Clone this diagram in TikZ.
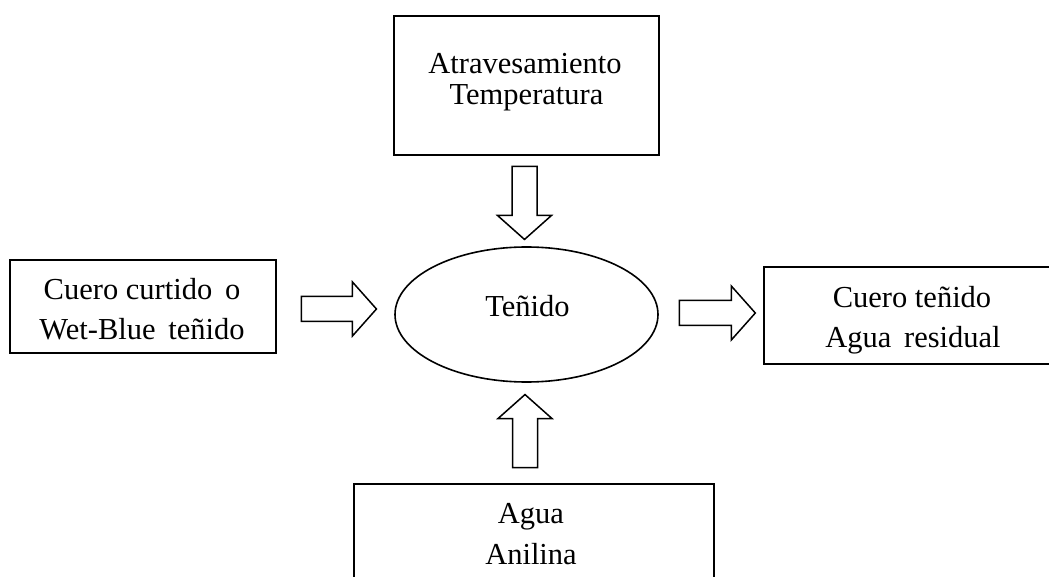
\documentclass[tikz,border=0pt]{standalone}
\usepackage{fontspec}
\setmainfont{Liberation Serif}
\usetikzlibrary{shapes.geometric,calc}
\tikzset{
  boxline/.style={draw, line width=2.9pt, rectangle, inner sep=0pt},
  ovalline/.style={draw, line width=1.6pt, ellipse, inner sep=0pt},
  arrowline/.style={draw, line width=1.5pt, fill=white, line join=miter},
  lbl/.style={anchor=base, inner sep=0pt, font=\fontsize{30.5}{36}\selectfont},
  pics/blockarrow/.style={code={
    \draw[arrowline] (0,-12.5) -- (#1-24,-12.5) -- (#1-24,-27) -- (#1,0)
      -- (#1-24,27) -- (#1-24,12.5) -- (0,12.5) -- cycle;}}
}
\begin{document}
\begin{tikzpicture}[x=1pt,y=1pt]
  \useasboundingbox (0,0) rectangle (1049,576);
  \clip (0,0) rectangle (1049,576);

  % boxes and the central process
  \node[boxline, minimum width=265pt, minimum height=139pt] (top) at (526.5,490.5) {};
  \node[boxline, minimum width=266pt, minimum height=93pt] (left) at (143,269.5) {};
  \node[boxline, minimum width=300pt, minimum height=97pt] (right) at (914,260.5) {};
  \node[boxline, minimum width=360pt, minimum height=110pt] (bottom) at (534,37) {};
  \node[ovalline, minimum width=263pt, minimum height=135pt] (proc) at (526.5,261.5) {};

  % texts
  \node[lbl] (t1) at (525,502) {Atravesamiento};
  \node[lbl] (t2) at (526.5,471) {Temperatura};
  \node[lbl] (l1) at (142,276) {Cuero curtido \,o};
  \node[lbl] (l2) at (142,236) {Wet-Blue \,teñido};
  \node[lbl] (p1) at (527.5,259) {Teñido};
  \node[lbl] (r1) at (912,268) {Cuero teñido};
  \node[lbl] (r2) at (913,228) {Agua \,residual};
  \node[lbl] (b1) at (531,53) {Agua};
  \node[lbl] (b2) at (531,12) {Anilina};

  % block arrows between the boxes and the process
  \coordinate (dn) at ($(top.south)+(-2,-10)$);
  \coordinate (up) at ($(bottom.north)+(-9,15)$);
  \coordinate (lt) at ($(left.east)+(24,-2.5)$);
  \coordinate (rt) at ($(proc.east)+(20.5,1.5)$);
  \pic[rotate=-90] at (dn) {blockarrow=73};
  \pic[rotate=90] at (up) {blockarrow=73};
  \pic at (lt) {blockarrow=75};
  \pic at (rt) {blockarrow=76};
\end{tikzpicture}
\end{document}
